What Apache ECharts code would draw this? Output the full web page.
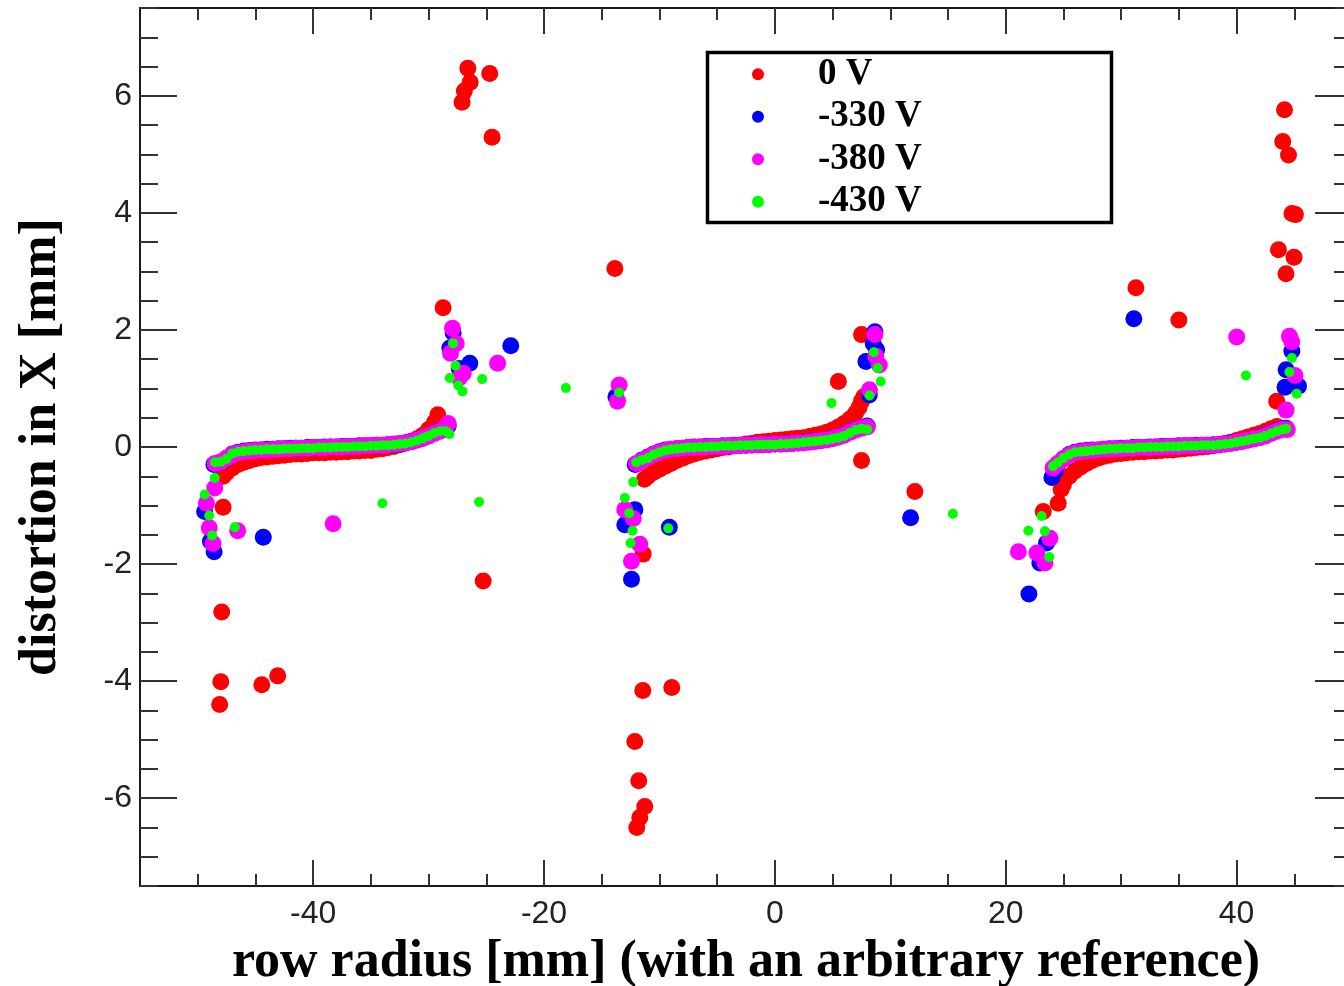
<!DOCTYPE html>
<html>
<head>
<meta charset="utf-8">
<script src="https://cdn.jsdelivr.net/npm/echarts@6/dist/echarts.min.js"></script>
<style>
html,body{margin:0;padding:0;background:#fff;}
#chart{width:1344px;height:986px;}
</style>
</head>
<body>
<div id="chart"></div>
<script>
// ---------- data ----------
const seriesNames = ['0 V', '-330 V', '-380 V', '-430 V'];
const seriesColors = ['#ff0000', '#0000ff', '#ff00ff', '#00ff00'];

const xMajorTicks = [-40, -20, 0, 20, 40];
const xMinorTicks = [-50, -45, -40, -35, -30, -25, -20, -15, -10, -5, 0, 5, 10, 15, 20, 25, 30, 35, 40, 45];
const yMajorTicks = [-6, -4, -2, 0, 2, 4, 6];
const yMinorTicks = [-7.5, -7, -6.5, -6, -5.5, -5, -4.5, -4, -3.5, -3, -2.5, -2, -1.5, -1, -0.5, 0,
  0.5, 1, 1.5, 2, 2.5, 3, 3.5, 4, 4.5, 5, 5.5, 6, 6.5, 7, 7.5];

// 0 V
const red0V_seg1 = [[-47.8,-0.50],[-47.5,-0.44],[-47.0,-0.36],[-46.5,-0.30],[-46.0,-0.26],[-45.5,-0.23],[-45.0,-0.20],[-44.5,-0.18],[-44.0,-0.17],[-43.5,-0.16],[-43.0,-0.15],[-42.5,-0.14],[-42.0,-0.13],[-41.5,-0.12],[-41.0,-0.12],[-40.5,-0.11],[-40.0,-0.10],[-39.5,-0.10],[-39.0,-0.10],[-38.5,-0.09],[-38.0,-0.09],[-37.5,-0.08],[-37.0,-0.08],[-36.5,-0.07],[-36.0,-0.07],[-35.5,-0.06],[-35.0,-0.06],[-34.5,-0.04],[-34.0,-0.03],[-33.5,-0.01],[-33.0,0.01],[-32.5,0.04],[-32.0,0.07],[-31.5,0.10],[-31.0,0.14],[-30.5,0.20],[-30.0,0.30],[-29.5,0.42],[-29.2,0.55]];
const red0V_seg2 = [[-11.3,-0.55],[-11.0,-0.50],[-10.5,-0.43],[-10.0,-0.38],[-9.5,-0.33],[-9.0,-0.28],[-8.5,-0.23],[-8.0,-0.19],[-7.5,-0.15],[-7.0,-0.12],[-6.5,-0.09],[-6.0,-0.07],[-5.5,-0.05],[-5.0,-0.03],[-4.5,-0.01],[-4.0,0.00],[-3.5,0.02],[-3.0,0.03],[-2.5,0.05],[-2.0,0.06],[-1.5,0.08],[-1.0,0.09],[-0.5,0.10],[0.0,0.11],[0.5,0.12],[1.0,0.13],[1.5,0.14],[2.0,0.15],[2.5,0.16],[3.0,0.18],[3.5,0.20],[4.0,0.22],[4.5,0.25],[5.0,0.29],[5.5,0.34],[6.0,0.40],[6.5,0.48],[7.0,0.58],[7.3,0.68],[7.5,0.78],[7.7,0.86]];
const red0V_seg3 = [[24.8,-0.72],[25.0,-0.64],[25.5,-0.50],[26.0,-0.41],[26.5,-0.34],[27.0,-0.28],[27.5,-0.23],[28.0,-0.19],[28.5,-0.16],[29.0,-0.14],[29.5,-0.12],[30.0,-0.11],[30.5,-0.10],[31.0,-0.09],[31.5,-0.08],[32.0,-0.08],[32.5,-0.07],[33.0,-0.07],[33.5,-0.06],[34.0,-0.05],[34.5,-0.05],[35.0,-0.04],[35.5,-0.03],[36.0,-0.02],[36.5,-0.01],[37.0,0.00],[37.5,0.01],[38.0,0.02],[38.5,0.04],[39.0,0.06],[39.5,0.08],[40.0,0.11],[40.5,0.14],[41.0,0.17],[41.5,0.20],[42.0,0.23],[42.5,0.27],[43.0,0.31],[43.5,0.35]];
const red0V_scatter = [[-47.8,-1.03],[-47.92,-2.82],[-48.0,-4.01],[-48.1,-4.40],[-44.45,-4.06],[-43.07,-3.91],
  [-28.74,2.38],[-26.6,6.47],[-24.7,6.38],[-26.4,6.23],[-26.9,6.08],[-27.1,5.89],[-24.5,5.29],[-25.27,-2.29],
  [-13.86,3.05],[-11.41,-1.83],[-11.44,-4.16],[-8.93,-4.11],[-12.13,-5.03],[-11.79,-5.70],[-11.27,-6.14],[-11.7,-6.33],[-11.96,-6.50],
  [5.5,1.12],[7.51,1.92],[7.51,-0.23],[12.13,-0.76],
  [31.28,2.72],[35.0,2.17],[43.63,3.37],[44.98,3.24],[44.28,2.96],[44.15,5.76],[44.0,5.22],[44.5,4.99],[44.8,3.99],[45.1,3.97],
  [43.48,0.78],[24.55,-0.96],[23.25,-1.10]];

// -330 V
const blue330V_seg1 = [[-48.6,-0.30],[-48.0,-0.26],[-47.5,-0.20],[-47.0,-0.12],[-46.5,-0.09],[-46.0,-0.07],[-45.5,-0.06],[-45.0,-0.05],[-44.5,-0.05],[-44.0,-0.04],[-43.5,-0.04],[-43.0,-0.03],[-42.5,-0.03],[-42.0,-0.02],[-41.5,-0.02],[-41.0,-0.02],[-40.5,-0.01],[-40.0,-0.01],[-39.5,-0.01],[-39.0,0.00],[-38.5,0.00],[-38.0,0.00],[-37.5,0.01],[-37.0,0.01],[-36.5,0.01],[-36.0,0.02],[-35.5,0.02],[-35.0,0.02],[-34.5,0.03],[-34.0,0.03],[-33.5,0.04],[-33.0,0.04],[-32.5,0.05],[-32.0,0.07],[-31.5,0.09],[-31.0,0.12],[-30.5,0.15],[-30.0,0.19],[-29.5,0.24],[-29.0,0.28],[-28.5,0.33],[-28.3,0.36]];
const blue330V_seg2 = [[-12.1,-0.30],[-11.5,-0.22],[-11.0,-0.17],[-10.5,-0.12],[-10.0,-0.08],[-9.5,-0.05],[-9.0,-0.04],[-8.5,-0.03],[-8.0,-0.02],[-7.5,-0.01],[-7.0,0.00],[-6.5,0.00],[-6.0,0.01],[-5.5,0.01],[-5.0,0.01],[-4.5,0.02],[-4.0,0.02],[-3.5,0.03],[-3.0,0.03],[-2.5,0.03],[-2.0,0.04],[-1.5,0.04],[-1.0,0.04],[-0.5,0.05],[0.0,0.05],[0.5,0.05],[1.0,0.06],[1.5,0.06],[2.0,0.07],[2.5,0.08],[3.0,0.09],[3.5,0.10],[4.0,0.11],[4.5,0.13],[5.0,0.15],[5.5,0.17],[6.0,0.21],[6.5,0.26],[7.0,0.30],[7.5,0.33],[8.0,0.36]];
const blue330V_seg3 = [[24.0,-0.52],[24.3,-0.40],[24.5,-0.30],[25.0,-0.20],[25.5,-0.13],[26.0,-0.09],[26.5,-0.07],[27.0,-0.06],[27.5,-0.05],[28.0,-0.05],[28.5,-0.04],[29.0,-0.03],[29.5,-0.03],[30.0,-0.02],[30.5,-0.02],[31.0,-0.01],[31.5,-0.01],[32.0,-0.01],[32.5,0.00],[33.0,0.00],[33.5,0.01],[34.0,0.01],[34.5,0.01],[35.0,0.02],[35.5,0.02],[36.0,0.02],[36.5,0.03],[37.0,0.03],[37.5,0.03],[38.0,0.04],[38.5,0.04],[39.0,0.05],[39.5,0.07],[40.0,0.08],[40.5,0.10],[41.0,0.12],[41.5,0.14],[42.0,0.17],[42.5,0.20],[43.0,0.24],[43.5,0.28],[44.0,0.31],[44.3,0.32]];
const blue330V_scatter = [[-49.4,-1.10],[-48.9,-1.61],[-48.58,-1.79],[-44.32,-1.54],
  [-27.87,1.95],[-28.16,1.69],[-26.43,1.43],[-27.34,1.34],[-22.88,1.73],
  [-13.77,0.86],[-12.13,-1.07],[-13.0,-1.33],[-12.42,-2.26],[-9.14,-1.37],
  [8.67,1.97],[8.52,1.77],[8.82,1.66],[7.89,1.46],[8.18,0.89],[11.76,-1.21],
  [31.1,2.19],[44.79,1.64],[44.29,1.32],[44.2,1.02],[45.36,1.04],[23.54,-1.64],[22.96,-1.98],[22.01,-2.51]];

// -380 V
const magenta380V_seg1 = [[-48.5,-0.28],[-48.0,-0.25],[-47.5,-0.19],[-47.0,-0.13],[-46.5,-0.10],[-46.0,-0.08],[-45.5,-0.07],[-45.0,-0.06],[-44.5,-0.05],[-44.0,-0.05],[-43.5,-0.04],[-43.0,-0.04],[-42.5,-0.03],[-42.0,-0.03],[-41.5,-0.02],[-41.0,-0.02],[-40.5,-0.02],[-40.0,-0.01],[-39.5,-0.01],[-39.0,-0.01],[-38.5,0.00],[-38.0,0.00],[-37.5,0.00],[-37.0,0.01],[-36.5,0.01],[-36.0,0.01],[-35.5,0.02],[-35.0,0.02],[-34.5,0.03],[-34.0,0.03],[-33.5,0.04],[-33.0,0.05],[-32.5,0.06],[-32.0,0.07],[-31.5,0.09],[-31.0,0.12],[-30.5,0.15],[-30.0,0.19],[-29.5,0.23],[-29.0,0.27],[-28.5,0.33],[-28.3,0.40]];
const magenta380V_seg2 = [[-12.0,-0.28],[-11.5,-0.23],[-11.0,-0.18],[-10.5,-0.13],[-10.0,-0.09],[-9.5,-0.06],[-9.0,-0.04],[-8.5,-0.03],[-8.0,-0.02],[-7.5,-0.01],[-7.0,-0.01],[-6.5,0.00],[-6.0,0.00],[-5.5,0.01],[-5.0,0.01],[-4.5,0.01],[-4.0,0.02],[-3.5,0.02],[-3.0,0.03],[-2.5,0.03],[-2.0,0.03],[-1.5,0.04],[-1.0,0.04],[-0.5,0.04],[0.0,0.05],[0.5,0.05],[1.0,0.05],[1.5,0.06],[2.0,0.07],[2.5,0.07],[3.0,0.08],[3.5,0.10],[4.0,0.11],[4.5,0.12],[5.0,0.14],[5.5,0.17],[6.0,0.20],[6.5,0.25],[7.0,0.29],[7.5,0.32],[8.0,0.34]];
const magenta380V_seg3 = [[24.1,-0.36],[24.5,-0.28],[25.0,-0.20],[25.5,-0.14],[26.0,-0.10],[26.5,-0.08],[27.0,-0.07],[27.5,-0.06],[28.0,-0.05],[28.5,-0.04],[29.0,-0.04],[29.5,-0.03],[30.0,-0.03],[30.5,-0.02],[31.0,-0.02],[31.5,-0.01],[32.0,-0.01],[32.5,-0.01],[33.0,0.00],[33.5,0.00],[34.0,0.01],[34.5,0.01],[35.0,0.01],[35.5,0.02],[36.0,0.02],[36.5,0.02],[37.0,0.03],[37.5,0.03],[38.0,0.03],[38.5,0.04],[39.0,0.05],[39.5,0.06],[40.0,0.08],[40.5,0.10],[41.0,0.12],[41.5,0.14],[42.0,0.16],[42.5,0.19],[43.0,0.23],[43.5,0.27],[44.0,0.30],[44.4,0.30]];
const magenta380V_scatter = [[-48.53,-0.70],[-49.25,-0.96],[-49.0,-1.38],[-48.67,-1.65],[-46.54,-1.43],[-38.27,-1.31],
  [-27.93,2.03],[-28.1,1.60],[-27.6,1.77],[-27.0,1.26],[-27.34,1.18],[-24.02,1.43],
  [-13.49,1.06],[-13.63,0.78],[-13.0,-1.07],[-12.27,-1.22],[-11.7,-1.66],[-12.42,-1.95],
  [8.67,1.92],[8.75,1.55],[9.05,1.40],[8.2,0.98],
  [40.01,1.88],[44.58,1.89],[44.79,1.80],[45.06,1.22],[44.29,0.63],[23.83,-1.56],[21.1,-1.79],[22.7,-1.81],[23.4,-1.98]];

// -430 V
const green430V_seg1 = [[-48.5,-0.26],[-48.0,-0.25],[-47.5,-0.20],[-47.0,-0.11],[-46.5,-0.08],[-46.0,-0.07],[-45.5,-0.06],[-45.0,-0.05],[-44.5,-0.05],[-44.0,-0.04],[-43.5,-0.04],[-43.0,-0.04],[-42.5,-0.03],[-42.0,-0.03],[-41.5,-0.03],[-41.0,-0.02],[-40.5,-0.02],[-40.0,-0.02],[-39.5,-0.01],[-39.0,-0.01],[-38.5,-0.01],[-38.0,0.00],[-37.5,0.00],[-37.0,0.00],[-36.5,0.01],[-36.0,0.01],[-35.5,0.01],[-35.0,0.02],[-34.5,0.02],[-34.0,0.03],[-33.5,0.03],[-33.0,0.04],[-32.5,0.05],[-32.0,0.06],[-31.5,0.08],[-31.0,0.11],[-30.5,0.15],[-30.0,0.19],[-29.5,0.24],[-29.0,0.27],[-28.5,0.27],[-28.2,0.22]];
const green430V_seg2 = [[-12.0,-0.26],[-11.5,-0.22],[-11.0,-0.19],[-10.5,-0.13],[-10.0,-0.09],[-9.5,-0.06],[-9.0,-0.04],[-8.5,-0.03],[-8.0,-0.02],[-7.5,-0.01],[-7.0,-0.01],[-6.5,0.00],[-6.0,0.00],[-5.5,0.01],[-5.0,0.01],[-4.5,0.02],[-4.0,0.02],[-3.5,0.02],[-3.0,0.03],[-2.5,0.03],[-2.0,0.03],[-1.5,0.04],[-1.0,0.04],[-0.5,0.04],[0.0,0.04],[0.5,0.05],[1.0,0.05],[1.5,0.06],[2.0,0.07],[2.5,0.08],[3.0,0.09],[3.5,0.10],[4.0,0.11],[4.5,0.12],[5.0,0.14],[5.5,0.16],[6.0,0.19],[6.5,0.24],[7.0,0.29],[7.5,0.31],[8.0,0.30]];
const green430V_seg3 = [[24.1,-0.33],[24.5,-0.27],[25.0,-0.19],[25.5,-0.13],[26.0,-0.09],[26.5,-0.08],[27.0,-0.07],[27.5,-0.06],[28.0,-0.05],[28.5,-0.04],[29.0,-0.03],[29.5,-0.03],[30.0,-0.02],[30.5,-0.02],[31.0,-0.02],[31.5,-0.01],[32.0,-0.01],[32.5,0.00],[33.0,0.00],[33.5,0.00],[34.0,0.01],[34.5,0.01],[35.0,0.01],[35.5,0.02],[36.0,0.02],[36.5,0.02],[37.0,0.03],[37.5,0.03],[38.0,0.03],[38.5,0.04],[39.0,0.05],[39.5,0.06],[40.0,0.08],[40.5,0.10],[41.0,0.12],[41.5,0.14],[42.0,0.16],[42.5,0.19],[43.0,0.23],[43.5,0.27],[44.0,0.30],[44.3,0.31]];
const green430V_scatter = [[-48.53,-0.53],[-49.4,-0.81],[-49.0,-1.17],[-48.75,-1.51],[-46.79,-1.37],[-34.0,-0.96],
  [-27.87,1.77],[-27.67,1.39],[-28.16,1.18],[-27.43,1.05],[-27.06,0.95],[-25.35,1.16],[-25.62,-0.94],[-18.11,1.01],
  [-13.49,0.93],[-12.27,-0.60],[-13.0,-0.87],[-12.62,-1.13],[-12.33,-1.43],[-12.5,-1.64],[-9.23,-1.39],
  [8.58,1.62],[8.91,1.35],[9.17,1.12],[8.2,0.88],[4.91,0.75],[15.42,-1.14],
  [40.81,1.22],[44.79,1.52],[44.58,1.28],[45.21,0.91],[23.11,-1.18],[21.96,-1.43],[23.4,-1.44],[23.77,-1.88]];

// ---------- chart ----------
const seriesData = [
  red0V_seg1.concat(red0V_seg2, red0V_seg3, red0V_scatter),
  blue330V_seg1.concat(blue330V_seg2, blue330V_seg3, blue330V_scatter),
  magenta380V_seg1.concat(magenta380V_seg2, magenta380V_seg3, magenta380V_scatter),
  green430V_seg1.concat(green430V_seg2, green430V_seg3, green430V_scatter)
];
const symbolSizes = [17, 17, 17, 10];

const X_MIN = -55, X_MAX = 50, Y_MIN = -7.5, Y_MAX = 7.5;
const axisColor = '#1a1a1a';
const tickColor = '#333';

function xAx(position, ticks, len, labels, extra) {
  return Object.assign({
    type: 'value', gridIndex: 0, min: X_MIN, max: X_MAX, position: position,
    axisLine: { show: true, onZero: false, lineStyle: { color: axisColor, width: 2 } },
    axisTick: { show: true, inside: true, length: len, customValues: ticks, lineStyle: { color: tickColor, width: 2 } },
    axisLabel: labels ? { show: true, customValues: labels, fontSize: 32, fontFamily: 'Liberation Sans', color: '#222', margin: 12 } : { show: false },
    splitLine: { show: false }
  }, extra || {});
}
function yAx(position, ticks, len, labels, extra) {
  return Object.assign({
    type: 'value', gridIndex: 0, min: Y_MIN, max: Y_MAX, position: position,
    axisLine: { show: true, onZero: false, lineStyle: { color: axisColor, width: 2 } },
    axisTick: { show: true, inside: true, length: len, customValues: ticks, lineStyle: { color: tickColor, width: 2 } },
    axisLabel: labels ? { show: true, customValues: labels, fontSize: 32, fontFamily: 'Liberation Sans', color: '#222', margin: 8 } : { show: false },
    splitLine: { show: false }
  }, extra || {});
}

const chart = echarts.init(document.getElementById('chart'), null, { renderer: 'canvas' });
chart.setOption({
  animation: false,
  backgroundColor: '#fff',
  grid: { left: 140, top: 8, width: 1212, height: 878, containLabel: false, outerBoundsMode: 'none' },
  xAxis: [
    xAx('bottom', xMajorTicks, 26, xMajorTicks, {
      name: 'row radius [mm] (with an arbitrary reference)', nameLocation: 'middle', nameGap: 51,
      nameTextStyle: { fontFamily: 'Liberation Serif', fontWeight: 'bold', fontSize: 52, color: '#000' }
    }),
    xAx('bottom', xMinorTicks, 12, null),
    xAx('top', xMajorTicks, 26, null),
    xAx('top', xMinorTicks, 12, null)
  ],
  yAxis: [
    yAx('left', yMajorTicks, 37, yMajorTicks, {
      name: 'distortion in X [mm]', nameLocation: 'middle', nameGap: 72,
      nameTextStyle: { fontFamily: 'Liberation Serif', fontWeight: 'bold', fontSize: 52, color: '#000' }
    }),
    yAx('left', yMinorTicks, 18, null),
    yAx('right', yMajorTicks, 37, null),
    yAx('right', yMinorTicks, 18, null)
  ],
  legend: {
    data: seriesNames,
    orient: 'vertical',
    left: 752, top: 53,
    padding: 0,
    itemGap: 0,
    itemWidth: 12, itemHeight: 12,
    icon: 'circle',
    selectedMode: false,
    textStyle: { fontFamily: 'Liberation Serif', fontWeight: 'bold', fontSize: 37, color: '#000', lineHeight: 42.5, padding: [0, 0, 0, 49] }
  },
  graphic: [{
    type: 'rect', left: 705, top: 50, z: 100,
    shape: { x: 0, y: 0, width: 404, height: 170 },
    style: { fill: 'none', stroke: '#000', lineWidth: 3.5 }
  }],
  series: seriesNames.map((n, i) => ({
    name: n, type: 'scatter', xAxisIndex: 0, yAxisIndex: 0,
    data: seriesData[i], symbol: 'circle', symbolSize: symbolSizes[i],
    itemStyle: { color: seriesColors[i], opacity: 1 },
    emphasis: { disabled: true }
  }))
});
</script>
</body>
</html>
